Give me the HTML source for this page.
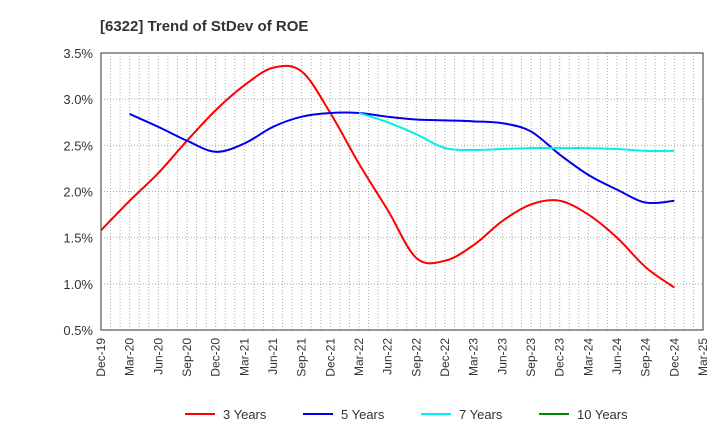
<!DOCTYPE html>
<html><head><meta charset="utf-8"><style>
body{margin:0;background:#fff;font-family:"Liberation Sans",Arial,sans-serif}
</style></head><body>
<svg width="720" height="440" xmlns="http://www.w3.org/2000/svg" font-family="Liberation Sans, Arial, sans-serif">
<text x="100" y="31" font-size="15" font-weight="bold" fill="#333">[6322]  Trend of StDev of ROE</text>
<g id="grid"></g><g id="axes"></g><g id="series"></g><g id="legend"></g>
</svg>
<script>
const xLabels=["Dec-19","Mar-20","Jun-20","Sep-20","Dec-20","Mar-21","Jun-21","Sep-21","Dec-21","Mar-22","Jun-22","Sep-22","Dec-22","Mar-23","Jun-23","Sep-23","Dec-23","Mar-24","Jun-24","Sep-24","Dec-24","Mar-25"];
const yTicks=[0.5,1.0,1.5,2.0,2.5,3.0,3.5];
const s3=[1.58,1.90,2.20,2.55,2.88,3.15,3.34,3.30,2.85,2.30,1.80,1.28,1.25,1.42,1.68,1.86,1.90,1.75,1.50,1.18,0.96];
const s5=[2.84,2.70,2.55,2.43,2.52,2.70,2.81,2.85,2.85,2.81,2.78,2.77,2.76,2.74,2.65,2.40,2.18,2.02,1.88,1.90];
const s7=[2.85,2.75,2.62,2.47,2.45,2.46,2.47,2.47,2.47,2.46,2.44,2.44];
const s10=[];
const L=101,R=703,T=53,B=330;
const xq=i=>L+i*(R-L)/21;
const y=v=>B-(v-0.5)/3*(B-T);
const NS="http://www.w3.org/2000/svg";
function mk(t,a,p){const e=document.createElementNS(NS,t);for(const k in a)e.setAttribute(k,a[k]);p.appendChild(e);return e;}
const grid=document.getElementById('grid'),axes=document.getElementById('axes'),ser=document.getElementById('series'),leg=document.getElementById('legend');
for(let m=1;m<63;m++){const gx=L+m*(R-L)/63;const l=mk('line',{x1:gx,x2:gx,y1:T,y2:B,stroke:'#aaa','stroke-dasharray':'1,2'},grid);

}
yTicks.forEach(v=>{const l=mk('line',{x1:L,x2:R,y1:y(v),y2:y(v),stroke:'#aaa','stroke-dasharray':'1,2'},grid);


const t=mk('text',{x:L-8,y:y(v)+5,'text-anchor':'end','font-size':13,fill:'#333'},axes);t.textContent=v.toFixed(1)+'%';

});
const fr=mk('rect',{x:L,y:T,width:R-L,height:B-T,fill:'none',stroke:'#333'},axes);


xLabels.forEach((s,i)=>{const t=mk('text',{transform:`translate(${xq(i)+4},${B+8}) rotate(-90)`,'text-anchor':'end','font-size':12,fill:'#333'},axes);t.textContent=s;

});
function path(vals,off){const p=vals.map((v,i)=>[xq(i+off),y(v)]);if(!p.length)return '';let d=`M${p[0][0]},${p[0][1]}`;
for(let i=0;i<p.length-1;i++){const p0=p[i-1]||p[i],p1=p[i],p2=p[i+1],p3=p[i+2]||p2;
d+=`C${p1[0]+(p2[0]-p0[0])/6},${p1[1]+(p2[1]-p0[1])/6} ${p2[0]-(p3[0]-p1[0])/6},${p2[1]-(p3[1]-p1[1])/6} ${p2[0]},${p2[1]}`;}return d;}
[[s3,0,'#ff0000','series-3-years'],[s5,1,'#0000ee','series-5-years'],[s7,9,'#00eeee','series-7-years'],[s10,0,'#008800','series-10-years']].forEach(([v,o,c,n])=>{
if(!v.length)return;const e=mk('path',{d:path(v,o),fill:'none',stroke:c,'stroke-width':2},ser);

});
[['3 Years','#ff0000',185],['5 Years','#0000ee',303],['7 Years','#00eeee',421],['10 Years','#008800',539]].forEach(([s,c,x])=>{
const g=mk('g',{},leg);


mk('line',{x1:x,x2:x+30,y1:414,y2:414,stroke:c,'stroke-width':2},g);
const t=mk('text',{x:x+38,y:419,'font-size':13,fill:'#333'},g);t.textContent=s;});
</script>
</body></html>
